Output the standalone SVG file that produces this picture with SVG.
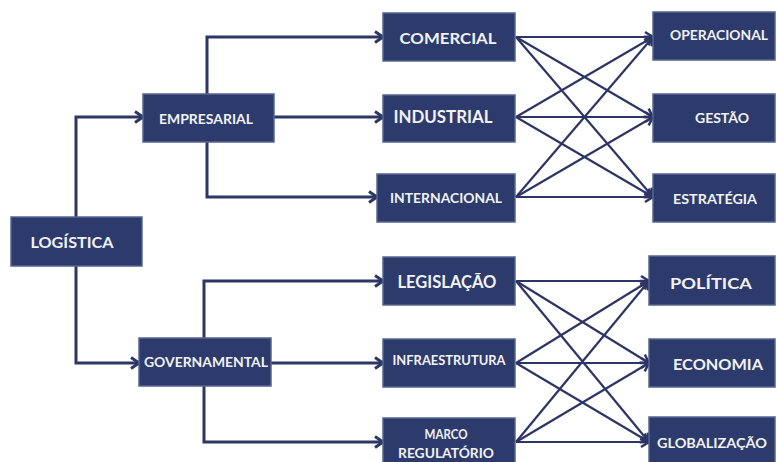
<svg xmlns="http://www.w3.org/2000/svg" width="777" height="462" viewBox="0 0 777 462">
<style>
.box{fill:#2c3a6c;stroke:#56658f;stroke-width:1.5}
.t{fill:#f2f2f2;font-family:Lato,"Open Sans","Liberation Sans",sans-serif;font-weight:bold;text-anchor:middle;dominant-baseline:central}
.tree{fill:none;stroke:#2d3766;stroke-width:3;marker-end:url(#ah)}
.x{fill:none;stroke:#2d3566;stroke-width:2.2;marker-end:url(#ah2)}
</style>
<defs>
<marker id="ah" markerUnits="userSpaceOnUse" markerWidth="14" markerHeight="14" refX="11" refY="7" orient="auto">
<path d="M3,1.5 L11,7 L3,12.5" fill="none" stroke="#2d3766" stroke-width="3" stroke-linejoin="miter"/>
</marker>
<marker id="ah2" markerUnits="userSpaceOnUse" markerWidth="14" markerHeight="14" refX="11" refY="7" orient="auto">
<path d="M3,2 L11,7 L3,12" fill="none" stroke="#2d3566" stroke-width="2.5"/>
</marker>
</defs>
<rect width="777" height="462" fill="#ffffff"/>
<g id="connectors">
<path class="tree" d="M76,217 V117 H143"/>
<path class="tree" d="M76,266 V363 H139"/>
<path class="tree" d="M207,94 V37 H383"/>
<path class="tree" d="M274,117 H383"/>
<path class="tree" d="M207,142 V197 H377"/>
<path class="tree" d="M204,338 V281 H383"/>
<path class="tree" d="M271,363 H383"/>
<path class="tree" d="M204,386 V442 H383"/>
<path class="x" d="M516,37 L653,37"/>
<path class="x" d="M516,37 L653,117"/>
<path class="x" d="M516,37 L653,197"/>
<path class="x" d="M516,117 L653,37"/>
<path class="x" d="M516,117 L653,117"/>
<path class="x" d="M516,117 L653,197"/>
<path class="x" d="M516,197 L653,37"/>
<path class="x" d="M516,197 L653,117"/>
<path class="x" d="M516,197 L653,197"/>
<path class="x" d="M516,281 L649,281"/>
<path class="x" d="M516,281 L649,363"/>
<path class="x" d="M516,281 L649,442"/>
<path class="x" d="M516,363 L649,281"/>
<path class="x" d="M516,363 L649,363"/>
<path class="x" d="M516,363 L649,442"/>
<path class="x" d="M516,442 L649,281"/>
<path class="x" d="M516,442 L649,363"/>
<path class="x" d="M516,442 L649,442"/>
</g>
<g id="logistica"><rect class="box" x="11" y="217" width="131" height="49"/><text class="t" x="72" y="241" font-size="16" textLength="83" lengthAdjust="spacingAndGlyphs">LOGÍSTICA</text></g>
<g id="empresarial"><rect class="box" x="143" y="94" width="131" height="48"/><text class="t" x="206" y="119" font-size="13" textLength="94" lengthAdjust="spacingAndGlyphs">EMPRESARIAL</text></g>
<g id="governamental"><rect class="box" x="139" y="338" width="132" height="48"/><text class="t" x="206" y="362" font-size="13" textLength="124" lengthAdjust="spacingAndGlyphs">GOVERNAMENTAL</text></g>
<g id="comercial"><rect class="box" x="383" y="13" width="132" height="48"/><text class="t" x="448" y="37" font-size="16" textLength="97" lengthAdjust="spacingAndGlyphs">COMERCIAL</text></g>
<g id="industrial"><rect class="box" x="383" y="95" width="132" height="47"/><text class="t" x="443" y="117" font-size="16.5" textLength="99" lengthAdjust="spacingAndGlyphs">INDUSTRIAL</text></g>
<g id="internacional"><rect class="box" x="377" y="174" width="138" height="48"/><text class="t" x="446" y="198" font-size="13" textLength="112" lengthAdjust="spacingAndGlyphs">INTERNACIONAL</text></g>
<g id="operacional"><rect class="box" x="653" y="12" width="122" height="48"/><text class="t" x="719" y="35" font-size="13.5" textLength="98" lengthAdjust="spacingAndGlyphs">OPERACIONAL</text></g>
<g id="gestao"><rect class="box" x="653" y="94" width="122" height="48"/><text class="t" x="722" y="117" font-size="14" textLength="54" lengthAdjust="spacingAndGlyphs">GESTÃO</text></g>
<g id="estrategia"><rect class="box" x="653" y="174" width="122" height="48"/><text class="t" x="715" y="198" font-size="14" textLength="84" lengthAdjust="spacingAndGlyphs">ESTRATÉGIA</text></g>
<g id="legislacao"><rect class="box" x="383" y="257" width="132" height="48"/><text class="t" x="447" y="282" font-size="16.5" textLength="99" lengthAdjust="spacingAndGlyphs">LEGISLAÇÃO</text></g>
<g id="infraestrutura"><rect class="box" x="383" y="339" width="132" height="48"/><text class="t" x="449" y="360" font-size="12.5" textLength="113" lengthAdjust="spacingAndGlyphs">INFRAESTRUTURA</text></g>
<g id="marco"><rect class="box" x="383" y="418" width="132" height="48"/><text class="t" x="446" y="434" font-size="13.5" textLength="43" lengthAdjust="spacingAndGlyphs">MARCO</text><text class="t" x="446" y="453" font-size="13.5" textLength="96" lengthAdjust="spacingAndGlyphs">REGULATÓRIO</text></g>
<g id="politica"><rect class="box" x="649" y="256" width="126" height="49"/><text class="t" x="711" y="283" font-size="15.5" textLength="82" lengthAdjust="spacingAndGlyphs">POLÍTICA</text></g>
<g id="economia"><rect class="box" x="649" y="339" width="126" height="48"/><text class="t" x="718" y="363" font-size="16" textLength="90" lengthAdjust="spacingAndGlyphs">ECONOMIA</text></g>
<g id="globalizacao"><rect class="box" x="649" y="417" width="126" height="49"/><text class="t" x="712" y="442" font-size="14" textLength="110" lengthAdjust="spacingAndGlyphs">GLOBALIZAÇÃO</text></g>
</svg>
